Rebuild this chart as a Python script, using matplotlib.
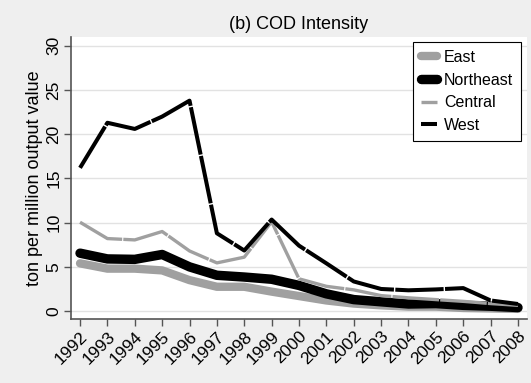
import matplotlib
matplotlib.use("Agg")
import matplotlib.pyplot as plt
import numpy as np

plt.rcParams['font.family'] = ['Liberation Sans', 'DejaVu Sans']

years = list(range(1992, 2009))
east = [5.4, 4.8, 4.8, 4.6, 3.5, 2.75, 2.75, 2.2, 1.7, 1.2, 0.85, 0.65, 0.5, 0.5, 0.35, 0.3, 0.25]
northeast = [6.55, 5.9, 5.85, 6.4, 5.0, 4.05, 3.85, 3.6, 2.9, 1.95, 1.3, 1.05, 0.8, 0.85, 0.65, 0.55, 0.4]
central = [10.05, 8.2, 8.05, 9.0, 6.8, 5.45, 6.1, 10.1, 3.65, 2.8, 2.4, 1.75, 1.5, 1.3, 1.1, 0.85, 0.65]
west = [16.2, 21.3, 20.6, 22.0, 23.8, 8.8, 6.85, 10.35, 7.4, 5.4, 3.35, 2.5, 2.35, 2.45, 2.6, 1.2, 0.8]

bg = '#efefef'
gray = '#a0a0a0'

fig = plt.figure(figsize=(5.31, 3.83), dpi=100, facecolor=bg)
ax = fig.add_axes([0.1337, 0.167, 0.8588, 0.7364])
ax.set_facecolor('white')

ax.plot(years, east, color=gray, lw=6.0, solid_capstyle='round', solid_joinstyle='round', label='East')
ax.plot(years, northeast, color='black', lw=6.8, solid_capstyle='round', solid_joinstyle='round', label='Northeast')
ax.plot(years, central, color=gray, lw=2.4, dashes=(14, 0.35), label='Central')
ax.plot(years, west, color='black', lw=2.9, dashes=(12, 0.35), label='West')

ax.set_xlim(1991.67, 2008.33)
ax.set_ylim(-0.9, 31.0)
ax.set_yticks(range(0, 31, 5))
ax.set_xticks(years)
ax.set_xticklabels([str(y) for y in years], rotation=45, ha='right', rotation_mode='anchor')
for lab in ax.get_yticklabels():
    lab.set_rotation(90)
    lab.set_va('center')

ax.grid(axis='y', color='#e2e2e2', lw=1)
ax.set_axisbelow(True)
for s in ['top', 'right']:
    ax.spines[s].set_visible(False)
for s in ['left', 'bottom']:
    ax.spines[s].set_color('#555555')
    ax.spines[s].set_linewidth(1.2)
ax.tick_params(colors='#555555', labelcolor='black', labelsize=12.5, length=5, width=1)
ax.tick_params(axis='x', pad=2)
ax.tick_params(axis='y', pad=2)

ax.set_ylabel('ton per million output value', fontsize=13, labelpad=2)
ax.set_title('(b) COD Intensity', fontsize=13, pad=6)

leg = ax.legend(loc='upper right', bbox_to_anchor=(0.987, 0.982), borderaxespad=0,
                fontsize=11.5, handlelength=1.0, handletextpad=0.45, labelspacing=0.48,
                borderpad=0.5, fancybox=False, framealpha=1, edgecolor='black')
leg.get_frame().set_linewidth(0.8)

fig.savefig('out.png', dpi=100, facecolor=bg)
